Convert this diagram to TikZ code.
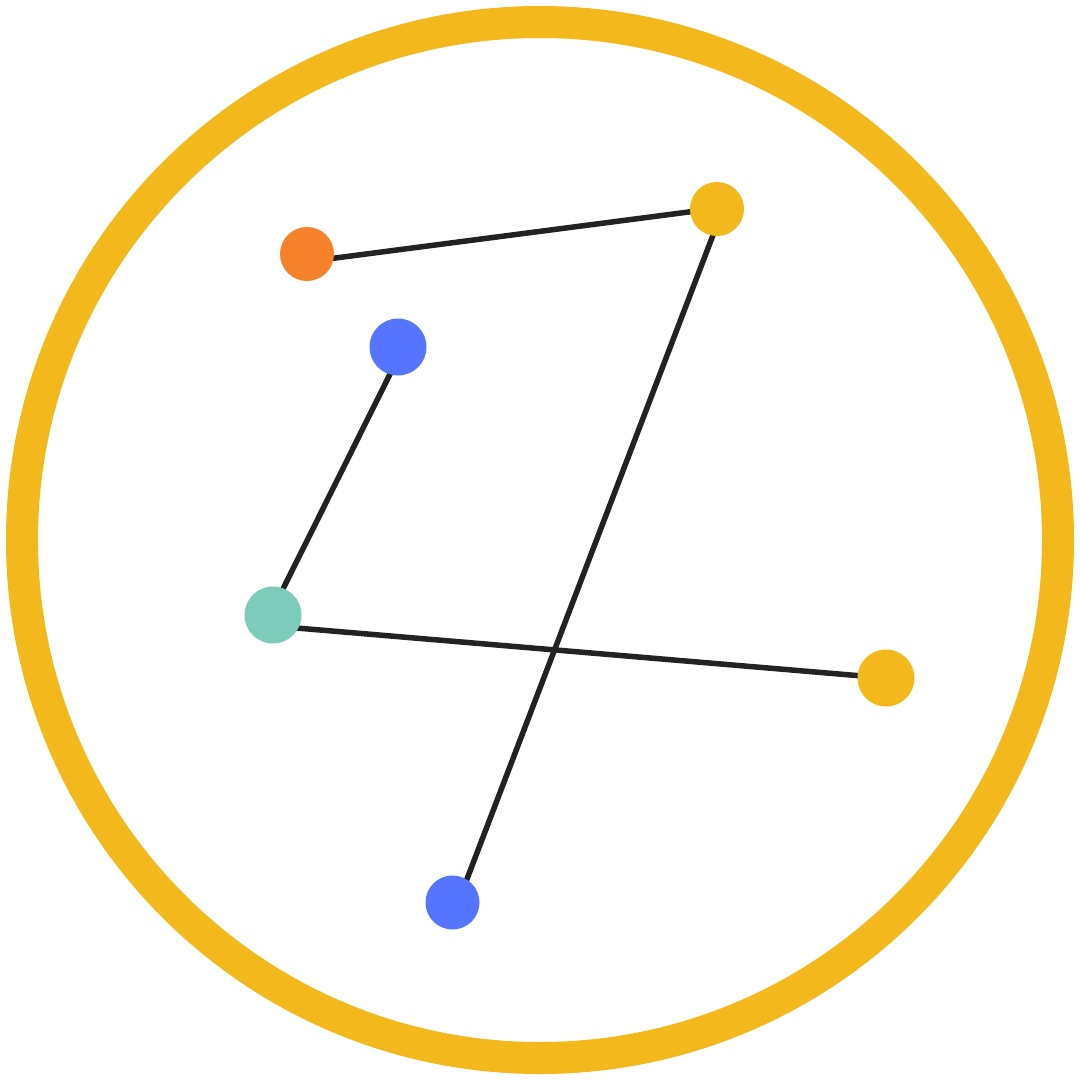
\documentclass[tikz,border=0pt]{standalone}
\usetikzlibrary{calc,backgrounds}
\definecolor{ringyellow}{HTML}{F2B81C}
\definecolor{dotorange}{HTML}{F5822A}
\definecolor{dotblue}{HTML}{5574FF}
\definecolor{dotteal}{HTML}{7DCBBA}
\definecolor{edgegray}{HTML}{222222}
\begin{document}
\begin{tikzpicture}[x=1pt,y=-1pt,
  dot/.style={circle,inner sep=0pt,minimum size=#1},
  dot/.default=55pt,
  link/.style={draw=edgegray,line width=5.5pt}]
\useasboundingbox (0,0) rectangle (1080,1080);
\draw[ringyellow,line width=32pt] (540,540) circle[radius=518];
\node[dot=54pt,fill=dotorange] (o) at (307,254) {};
\node[dot=54pt,fill=ringyellow] (y1) at (717,209) {};
\node[dot=57pt,fill=dotblue] (b1) at (398,347) {};
\node[dot=57pt,fill=dotteal] (t) at (273,615) {};
\node[dot=57pt,fill=ringyellow] (y2) at (886,678) {};
\node[dot=54pt,fill=dotblue] (b2) at (452.5,902.5) {};
\begin{scope}[on background layer]
\fill[white] (0,0) rectangle (1080,1080);
\path[link] ($(o)+(0,7.7)$) -- ($(y1)+(0,-0.7)$);
\path[link] ($(y1)+(6,0)$) -- ($(b2)+(5.5,0)$);
\path[link] ($(b1)+(5.5,0)$) -- ($(t)+(-3,0)$);
\path[link] ($(t)+(0,11)$) -- (y2.center);
\end{scope}
\end{tikzpicture}
\end{document}
